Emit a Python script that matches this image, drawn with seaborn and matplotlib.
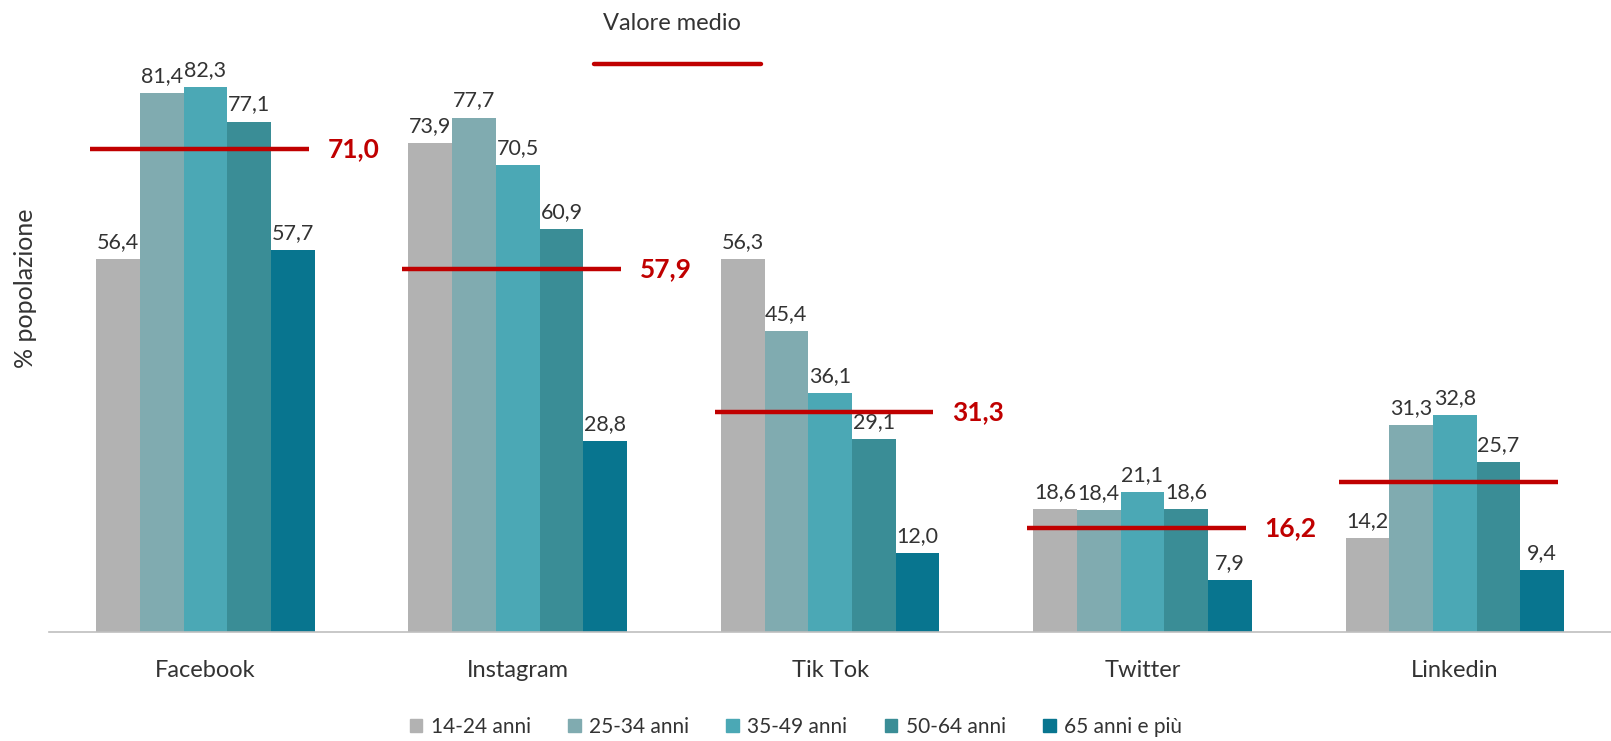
import matplotlib
matplotlib.use("Agg")
import matplotlib.pyplot as plt
from matplotlib.lines import Line2D
import seaborn as sns
import pandas as pd
import numpy as np

platforms = ["Facebook", "Instagram", "Tik Tok", "Twitter", "Linkedin"]
age_groups = ["14-24 anni", "25-34 anni", "35-49 anni", "50-64 anni", "65 anni e più"]
v_14_24 = [56.4, 73.9, 56.3, 18.6, 14.2]
v_25_34 = [81.4, 77.7, 45.4, 18.4, 31.3]
v_35_49 = [82.3, 70.5, 36.1, 21.1, 32.8]
v_50_64 = [77.1, 60.9, 29.1, 18.6, 25.7]
v_65 = [57.7, 28.8, 12.0, 7.9, 9.4]
# mean line heights as drawn in the picture, and their printed labels
mean_levels = [73.0, 54.8, 33.2, 15.7, 22.7]
mean_labels = ["71,0", "57,9", "31,3", "16,2", ""]
colors = ["#B2B2B2", "#80ABB0", "#4BA8B5", "#3A8D96", "#08758F"]

series = [v_14_24, v_25_34, v_35_49, v_50_64, v_65]
rows = []
for ag, vals in zip(age_groups, series):
    for p, v in zip(platforms, vals):
        rows.append({"platform": p, "age": ag, "value": v})
df = pd.DataFrame(rows)

sns.set_theme(style="white")
plt.rcParams["font.family"] = ["Lato", "DejaVu Sans"]

fig = plt.figure(figsize=(16.11, 7.41), dpi=100)
ax = fig.add_axes([0.0306, 0.147, 0.9694, 0.849])

sns.barplot(data=df, x="platform", y="value", hue="age", order=platforms,
            hue_order=age_groups, palette=colors, width=0.7, saturation=1,
            ax=ax, errorbar=None, legend=True, linewidth=0)

for c in ax.containers:
    ax.bar_label(c, labels=[f"{b.get_height():.1f}".replace(".", ",") for b in c],
                 padding=5, fontsize=15.5, color="#333333")

red = "#C00000"
for i, (m, lab) in enumerate(zip(mean_levels, mean_labels)):
    ax.plot([i - 0.37, i + 0.33], [m, m], color=red, lw=3.2, solid_capstyle="butt", zorder=5)
    if lab:
        ax.text(i + 0.39, m, lab, color=red, fontsize=19, fontweight="bold",
                va="center", ha="left")

ax.set_xlim(-0.5, 4.5)
ax.set_ylim(0, 95)
ax.set_yticks([])
ax.set_xlabel("")
ax.set_ylabel("% popolazione", fontsize=18, color="#333333")
ax.yaxis.set_label_coords(-0.008, 0.547)
for s in ["top", "right", "left"]:
    ax.spines[s].set_visible(False)
ax.spines["bottom"].set_color("#BFBFBF")
ax.spines["bottom"].set_linewidth(1.2)
ax.set_xticks(range(len(platforms)))
ax.set_xticklabels(platforms, fontsize=17, color="#333333")
ax.tick_params(axis="x", which="major", length=0, pad=20)
ax.set_xticks(np.arange(-0.5, 5.0, 1.0), minor=True)
ax.tick_params(axis="x", which="minor", length=7, color="#BFBFBF", width=1.2, direction="out")

ax.get_legend().remove()
handles = [plt.Rectangle((0, 0), 1, 1, color=c) for c in colors]
fig.legend(handles, age_groups, loc="lower center", bbox_to_anchor=(0.494, -0.02),
           ncol=5, frameon=False, fontsize=15, handlelength=0.6, handleheight=0.6,
           columnspacing=1.8, handletextpad=0.4, labelcolor="#333333")

fig.text(0.417, 1 - 24 / 741, "Valore medio", fontsize=17, color="#333333",
         ha="center", va="center")
fig.add_artist(Line2D([594 / 1611, 761 / 1611], [1 - 64 / 741, 1 - 64 / 741],
                      color=red, lw=3.2, transform=fig.transFigure))

fig.savefig("out.png", dpi=100)
